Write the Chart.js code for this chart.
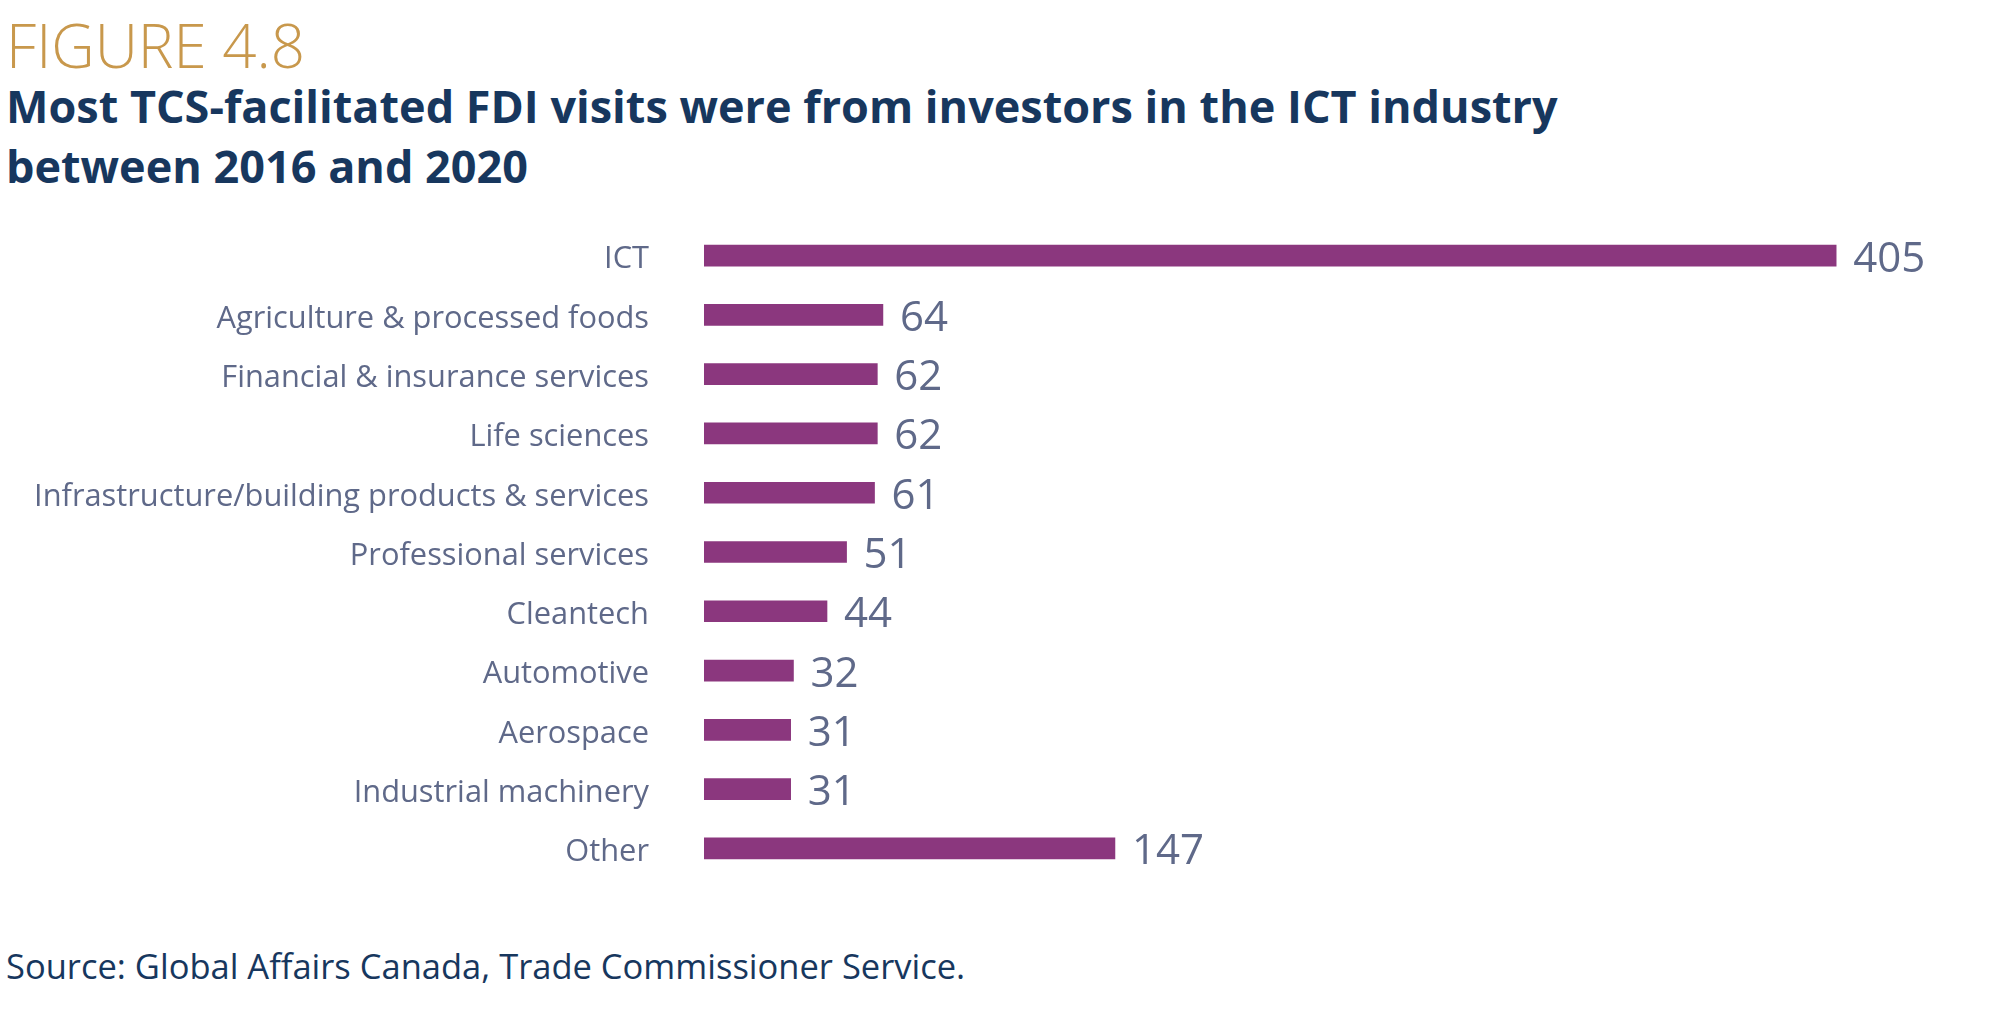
<!DOCTYPE html>
<html>
<head>
<meta charset="utf-8">
<script src="https://cdn.jsdelivr.net/npm/chart.js@4"></script>
<style>
  body { margin: 0; background: #fff; width: 2004px; height: 1016px; position: relative; overflow: hidden; }
  #fig { position: absolute; left: 6px; top: 4px; font-family: "Open Sans"; font-weight: 300; font-size: 60px; color: #c8984c; }
  #sub { position: absolute; left: 6px; top: 76px; font-family: "Open Sans"; font-weight: 700; font-size: 45px; line-height: 60px; color: #17375e; }
  #src { position: absolute; left: 6px; top: 942px; font-family: "Open Sans"; font-size: 34.5px; color: #17375e; }
  canvas { position: absolute; left: 0; top: 0; }
</style>
</head>
<body>
<div id="fig">FIGURE 4.8</div>
<div id="sub">Most TCS-facilitated FDI visits were from investors in the ICT industry<br>between 2016 and 2020</div>
<div id="src">Source: Global Affairs Canada, Trade Commissioner Service.</div>
<canvas id="chart" width="2004" height="1016"></canvas>
<script>
var categories = [
  "ICT",
  "Agriculture & processed foods",
  "Financial & insurance services",
  "Life sciences",
  "Infrastructure/building products & services",
  "Professional services",
  "Cleantech",
  "Automotive",
  "Aerospace",
  "Industrial machinery",
  "Other"
];
var visits = [405, 64, 62, 62, 61, 51, 44, 32, 31, 31, 147];

// value labels at the end of each bar
var valueLabels = {
  id: "valueLabels",
  afterDatasetsDraw: function (chart) {
    var ctx = chart.ctx;
    var meta = chart.getDatasetMeta(0);
    ctx.save();
    ctx.fillStyle = "#5f6989";
    ctx.font = "42px \"Open Sans\"";
    ctx.textAlign = "left";
    ctx.textBaseline = "middle";
    meta.data.forEach(function (bar, i) {
      ctx.fillText(String(visits[i]), bar.x + 17, bar.y + 4);
    });
    ctx.restore();
  }
};

Chart.defaults.animation = false;

var ctx = document.getElementById("chart").getContext("2d");
var myChart = new Chart(ctx, {
  type: "bar",
  data: {
    labels: categories,
    datasets: [
      {
        data: visits,
        backgroundColor: "#8b377e",
        barThickness: 21,
        borderWidth: 0
      }
    ]
  },
  options: {
    indexAxis: "y",
    responsive: false,
    layout: { padding: { top: 226, bottom: 138, right: 70, left: 0 } },
    plugins: { legend: { display: false }, tooltip: { enabled: false } },
    scales: {
      x: { display: false, min: 0, max: 440 },
      y: {
        grid: { display: false, drawTicks: false },
        border: { display: false },
        afterFit: function (scale) { scale.width = 704; },
        ticks: {
          padding: 55,
          labelOffset: 4,
          color: "#5f6989",
          font: { family: "\"Open Sans\"", size: 30.8 }
        }
      }
    }
  },
  plugins: [valueLabels]
});
</script>
</body>
</html>
